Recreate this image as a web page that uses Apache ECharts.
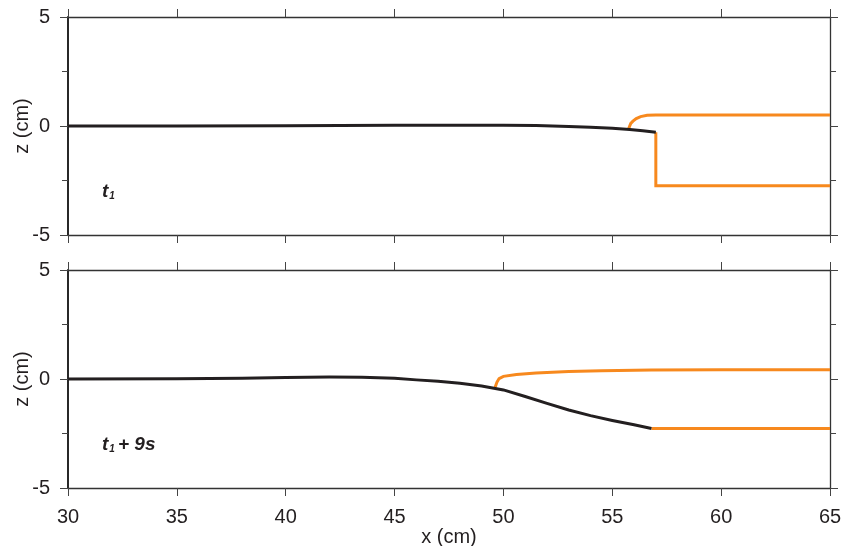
<!DOCTYPE html>
<html>
<head>
<meta charset="utf-8">
<script src="https://cdn.jsdelivr.net/npm/echarts@6/dist/echarts.min.js"></script>
<style>html,body{margin:0;padding:0;background:#fff}#c{width:844px;height:546px}</style>
</head>
<body>
<div id="c"></div>
<script>
// x tick values (cm) and z ticks
const xTicks = [30, 35, 40, 45, 50, 55, 60, 65];
const zTicks = [-5, 0, 5];

// Panel 1 (t1)
const top_surface = [[30,0],[35,0],[40,0.01],[45,0.03],[48,0.03],[50,0.03],[51.5,0.02],[53,-0.02],[54,-0.06],[55,-0.1],[55.8,-0.16],[56.4,-0.22],[57,-0.29]];
const top_upper = [[55.75,-0.14],[55.8,0.0],[55.85,0.12],[55.95,0.22],[56.1,0.34],[56.3,0.43],[56.6,0.49],[57,0.51],[60,0.51],[65,0.51]];
const top_lower = [[57,-0.29],[57,-2.74],[65,-2.74]];

// Panel 2 (t1 + 9s)
const bot_surface = [[30,0],[35,0.01],[38,0.04],[40,0.07],[42,0.09],[43.5,0.08],[45,0.03],[46,-0.04],[47,-0.1],[48,-0.2],[49,-0.32],[50,-0.5],[51,-0.8],[52,-1.12],[53,-1.42],[54,-1.68],[55,-1.9],[56,-2.1],[56.8,-2.27]];
const bot_upper = [[49.62,-0.38],[49.7,-0.15],[49.8,0.02],[50.0,0.12],[50.6,0.21],[51.5,0.28],[53,0.34],[54.5,0.38],[56.8,0.41],[60,0.42],[65,0.42]];
const bot_lower = [[56.8,-2.27],[65,-2.27]];

// panel annotations: main letter, subscript, rest
const labelMain = ['t', 't'];
const labelSub = ['1', '1'];
const labelRest = ['', '+ 9s'];

const FONT = 'Liberation Sans, Arial, sans-serif';
const TXT = '#231f20';
const BLACK = '#231f20';
const ORANGE = '#f7891e';

function xAx(grid, pos, showLabel) {
  return {
    type: 'value', gridIndex: grid, position: pos,
    min: xTicks[0], max: xTicks[xTicks.length-1], interval: xTicks[1]-xTicks[0],
    axisLine: {show: true, onZero: false, lineStyle: {color: '#333', width: 1.3}},
    axisTick: {show: true, inside: false, length: 8, lineStyle: {color: '#444', width: 1}},
    axisLabel: {show: showLabel, margin: 19, fontSize: 20, fontFamily: FONT, color: TXT},
    splitLine: {show: false},
    name: showLabel && pos === 'bottom' ? 'x (cm)' : '',
    nameLocation: 'middle', nameGap: 38,
    nameTextStyle: {fontSize: 20, fontFamily: FONT, color: TXT}
  };
}
function yAx(grid, pos, showLabel) {
  return {
    type: 'value', gridIndex: grid, position: pos,
    min: zTicks[0], max: zTicks[zTicks.length-1], interval: zTicks[1]-zTicks[0],
    axisLine: {show: true, onZero: false, lineStyle: {color: pos === 'left' ? '#111' : '#333', width: pos === 'left' ? 1.8 : 1.3}},
    axisTick: {show: true, inside: false, length: 8, lineStyle: {color: '#444', width: 1}},
    minorTick: {show: true, splitNumber: 2, length: 6, lineStyle: {color: '#444', width: 1}},
    axisLabel: {show: showLabel, margin: 18, fontSize: 20, fontFamily: FONT, color: TXT},
    splitLine: {show: false}, minorSplitLine: {show: false},
    name: showLabel ? 'z (cm)' : '',
    nameLocation: 'middle', nameGap: 36, nameRotate: 90, nameMoveOverlap: false,
    nameTextStyle: {fontSize: 20, fontFamily: FONT, color: TXT}
  };
}
function line(data, color, xi, yi) {
  return {
    type: 'line', data: data, xAxisIndex: xi, yAxisIndex: yi,
    showSymbol: false, symbol: 'none', smooth: false, animation: false,
    lineStyle: {color: color, width: 3, cap: 'butt', join: 'miter'},
    silent: true
  };
}
function label(i, baseline) {
  const st = {fontSize: 19, fontWeight: 'bold', fontStyle: 'italic', fontFamily: FONT, fill: TXT, verticalAlign: 'middle', align: 'left'};
  return {
    type: 'group', silent: true,
    children: [
      {type: 'text', x: 102, y: baseline - 6, style: Object.assign({}, st, {text: labelMain[i]})},
      {type: 'text', x: 109.3, y: baseline - 1.5, style: Object.assign({}, st, {text: labelSub[i], fontSize: 10})},
      {type: 'text', x: 118, y: baseline - 6, style: Object.assign({}, st, {text: labelRest[i]})}
    ]
  };
}

const chart = echarts.init(document.getElementById('c'), null, {renderer: 'canvas'});
chart.setOption({
  animation: false,
  backgroundColor: '#fff',
  grid: [
    {left: 68, right: 14, top: 17, height: 218, containLabel: false, outerBoundsMode: 'none'},
    {left: 68, right: 14, top: 270, height: 218, containLabel: false, outerBoundsMode: 'none'}
  ],
  xAxis: [xAx(0,'bottom',false), xAx(0,'top',false), xAx(1,'bottom',true), xAx(1,'top',false)],
  yAxis: [yAx(0,'left',true), yAx(0,'right',false), yAx(1,'left',true), yAx(1,'right',false)],
  series: [
    line(top_upper, ORANGE, 0, 0),
    line(top_lower, ORANGE, 0, 0),
    line(top_surface, BLACK, 0, 0),
    line(bot_upper, ORANGE, 2, 2),
    line(bot_lower, ORANGE, 2, 2),
    line(bot_surface, BLACK, 2, 2)
  ],
  graphic: [label(0, 198), label(1, 451)]
});
</script>
</body>
</html>
